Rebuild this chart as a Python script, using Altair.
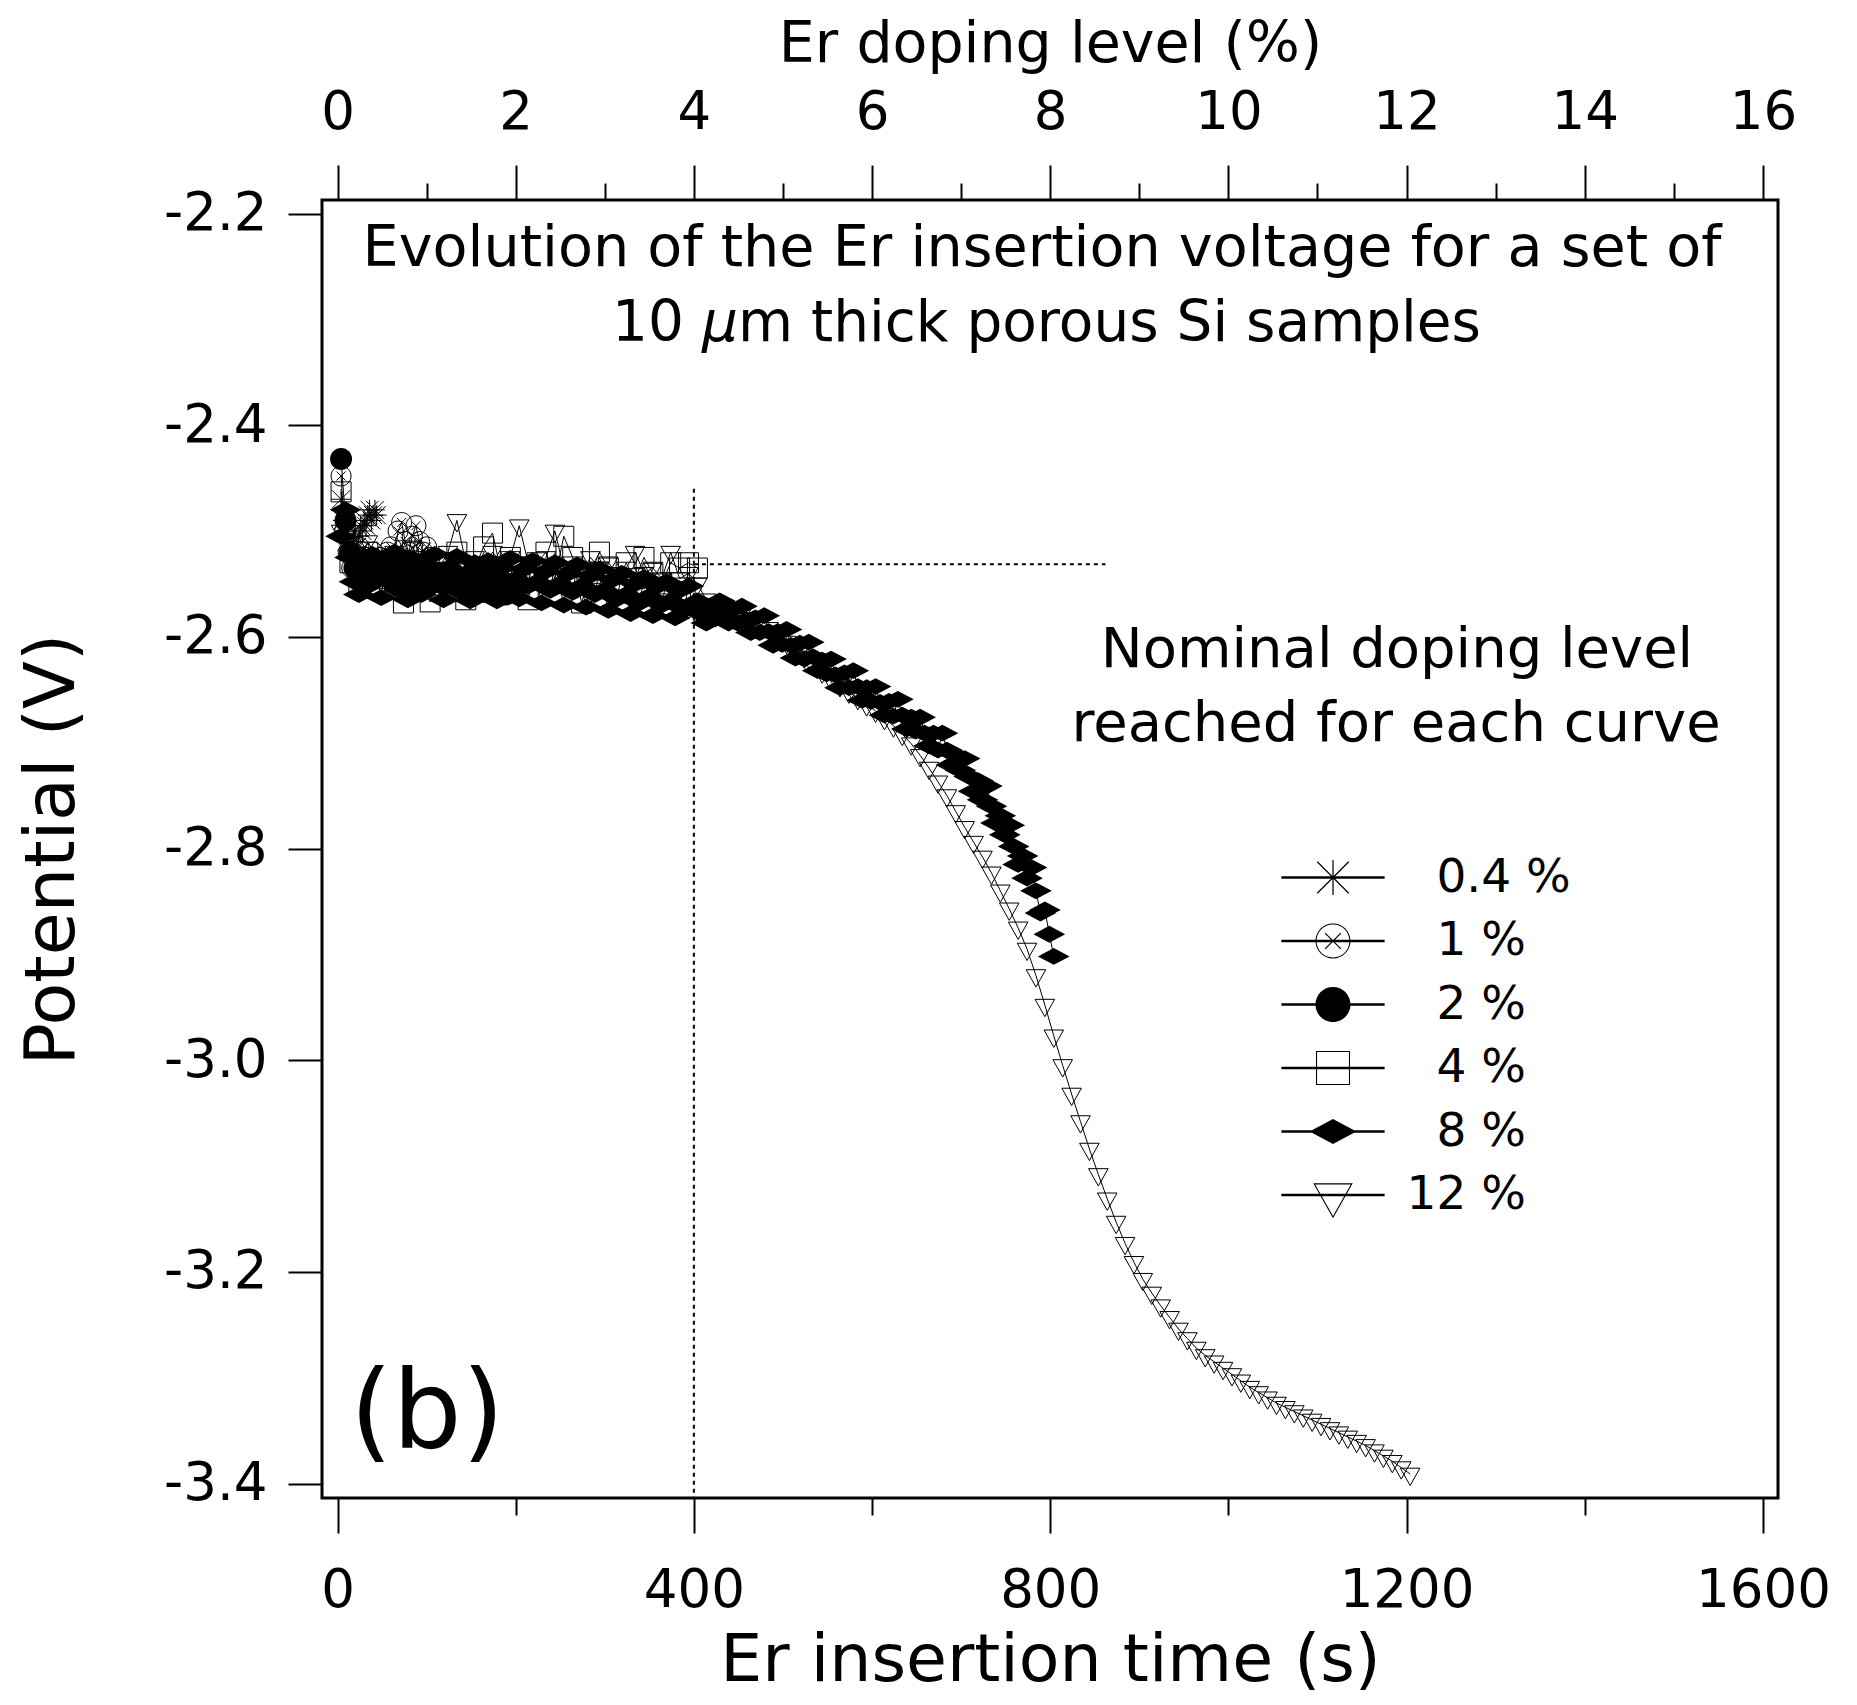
import altair as alt
import pandas as pd

FONT = "DejaVu Sans"

# ---------------- data ----------------
SERIES = ["0.4 %", "1 %", "2 %", "4 %", "8 %", "12 %"]

# sampling grids (s)
T_04 = [4 + 2 * k for k in range(21)]
T_1 = [4 + 4 * k for k in range(26)]
T_2 = [4 + 5 * k for k in range(41)]
T_4 = [4 + 10 * k for k in range(41)]
T_8 = [4 + 5 * k for k in range(161)]
T_12 = [4 + 10 * k for k in range(121)]

V_04 = [-2.470, -2.490, -2.500, -2.510, -2.505, -2.515, -2.520, -2.510, -2.500, -2.515,
        -2.505, -2.495, -2.500, -2.490, -2.495, -2.485, -2.480, -2.490, -2.485, -2.480,
        -2.485]

V_1 = [-2.448, -2.500, -2.520, -2.535, -2.530, -2.515, -2.540, -2.525, -2.530, -2.520,
       -2.535, -2.525, -2.530, -2.520, -2.515, -2.525, -2.500, -2.492, -2.510, -2.520,
       -2.505, -2.495, -2.510, -2.520, -2.515, -2.525]

V_2 = [-2.432, -2.490, -2.520, -2.535, -2.525, -2.540, -2.530, -2.545, -2.535, -2.540,
       -2.530, -2.545, -2.540, -2.535, -2.545, -2.540, -2.550, -2.540, -2.545, -2.535,
       -2.550, -2.545, -2.540, -2.550, -2.545, -2.540, -2.550, -2.545, -2.555, -2.545,
       -2.550, -2.540, -2.555, -2.550, -2.545, -2.555, -2.550, -2.560, -2.550, -2.555,
       -2.550]

V_4 = [-2.463, -2.530, -2.550, -2.520, -2.545, -2.530, -2.555, -2.568, -2.520, -2.545,
       -2.567, -2.530, -2.540, -2.520, -2.565, -2.535, -2.515, -2.502, -2.540, -2.525,
       -2.550, -2.565, -2.530, -2.520, -2.545, -2.505, -2.525, -2.568, -2.540, -2.520,
       -2.535, -2.550, -2.530, -2.545, -2.525, -2.540, -2.550, -2.530, -2.535, -2.530,
       -2.535]

V_8 = [-2.505, -2.480, -2.525, -2.548, -2.560, -2.532, -2.552, -2.522, -2.542, -2.563,
       -2.530, -2.548, -2.520, -2.556, -2.538, -2.565, -2.526, -2.546, -2.560, -2.533,
       -2.552, -2.522, -2.542, -2.565, -2.535, -2.550, -2.524, -2.558, -2.540, -2.566,
       -2.530, -2.548, -2.560, -2.528, -2.545, -2.566, -2.535, -2.555, -2.526, -2.546,
       -2.564, -2.536, -2.552, -2.528, -2.548, -2.568, -2.538, -2.556, -2.530, -2.550,
       -2.570, -2.540, -2.558, -2.532, -2.552, -2.572, -2.542, -2.560, -2.536, -2.556,
       -2.575, -2.546, -2.564, -2.540, -2.560, -2.578, -2.550, -2.568, -2.544, -2.562,
       -2.580, -2.552, -2.570, -2.548, -2.566, -2.582, -2.556, -2.574, -2.552, -2.570,
       -2.566, -2.579, -2.587, -2.572, -2.583, -2.566, -2.577, -2.587, -2.574, -2.587,
       -2.571, -2.584, -2.596, -2.582, -2.596, -2.580, -2.595, -2.608, -2.595, -2.607,
       -2.593, -2.608, -2.620, -2.606, -2.621, -2.605, -2.619, -2.632, -2.622, -2.635,
       -2.621, -2.636, -2.648, -2.634, -2.648, -2.632, -2.647, -2.660, -2.648, -2.661,
       -2.647, -2.662, -2.674, -2.661, -2.675, -2.659, -2.674, -2.687, -2.676, -2.689,
       -2.676, -2.691, -2.703, -2.691, -2.707, -2.691, -2.707, -2.721, -2.712, -2.726,
       -2.715, -2.732, -2.746, -2.736, -2.754, -2.741, -2.760, -2.776, -2.769, -2.787,
       -2.778, -2.798, -2.815, -2.807, -2.828, -2.818, -2.840, -2.861, -2.858, -2.881,
       -2.902]

V_12 = [-2.500, -2.520, -2.530, -2.510, -2.525, -2.530, -2.520, -2.535, -2.515, -2.530,
        -2.525, -2.535, -2.520, -2.490, -2.530, -2.525, -2.535, -2.520, -2.530, -2.525,
        -2.495, -2.530, -2.535, -2.525, -2.500, -2.535, -2.530, -2.540, -2.525, -2.535,
        -2.530, -2.540, -2.535, -2.520, -2.540, -2.535, -2.545, -2.520, -2.545, -2.540,
        -2.550, -2.565, -2.570, -2.572, -2.575, -2.578, -2.583, -2.588, -2.592, -2.597,
        -2.605, -2.612, -2.619, -2.626, -2.633, -2.640, -2.646, -2.652, -2.658, -2.664,
        -2.670, -2.677, -2.684, -2.692, -2.701, -2.712, -2.724, -2.737, -2.750, -2.765,
        -2.780, -2.794, -2.808, -2.823, -2.840, -2.857, -2.875, -2.895, -2.920, -2.948,
        -2.977, -3.005, -3.032, -3.058, -3.084, -3.108, -3.131, -3.153, -3.173, -3.191,
        -3.207, -3.220, -3.232, -3.243, -3.254, -3.263, -3.272, -3.279, -3.285, -3.291,
        -3.297, -3.303, -3.309, -3.314, -3.319, -3.324, -3.328, -3.332, -3.336, -3.340,
        -3.344, -3.348, -3.352, -3.356, -3.360, -3.364, -3.369, -3.374, -3.379, -3.385,
        -3.391]

# dotted guide lines
GUIDE_T = 400
GUIDE_V_TOP = -2.46
GUIDE_V_BOTTOM = -3.4137
GUIDE_H_V = -2.5315
GUIDE_H_T_END = 862

# axis ticks
X_MAJOR = [0, 400, 800, 1200, 1600]
X_MINOR = [200, 600, 1000, 1400]
D_MAJOR = [0, 2, 4, 6, 8, 10, 12, 14, 16]
D_MINOR = [1, 3, 5, 7, 9, 11, 13, 15]
Y_TICKS = [-2.2, -2.4, -2.6, -2.8, -3.0, -3.2, -3.4]

# ---------------- marker shapes ----------------
# data markers (stroked)
STAR = "M-1 0L1 0M0 -1L0 1M-0.9 -0.9L0.9 0.9M-0.9 0.9L0.9 -0.9"
CIRC = "M1 0A1 1 0 1 1 -1 0A1 1 0 1 1 1 0Z"
CIRCX = CIRC + "M-0.45 -0.45L0.45 0.45M-0.45 0.45L0.45 -0.45"
SQUARE = "M-0.97 -0.97L0.97 -0.97L0.97 0.97L-0.97 0.97Z"
DIAMOND = "M-1.34 0L0 -0.71L1.34 0L0 0.71Z"
TRI = "M-1.13 -0.67L1.13 -0.67L0 1.33Z"

# legend markers (all filled outlines, with the line through them)
BAR = "M-2.95 -0.075L2.95 -0.075L2.95 0.075L-2.95 0.075Z"
L_STAR = (BAR + "M-0.035 -1L0.035 -1L0.035 1L-0.035 1Z"
          + "M-0.875 -0.925L0.925 0.875L0.875 0.925L-0.925 -0.875Z"
          + "M-0.875 0.925L-0.925 0.875L0.875 -0.925L0.925 -0.875Z")
RING = CIRC + "M0.94 0A0.94 0.94 0 1 0 -0.94 0A0.94 0.94 0 1 0 0.94 0Z"
L_CIRCX = (BAR + RING
           + "M-0.425 -0.475L0.475 0.425L0.425 0.475L-0.475 -0.425Z"
           + "M-0.425 0.475L-0.475 0.425L0.425 -0.475L0.475 -0.425Z")
L_CIRC = BAR + CIRC
L_SQUARE = BAR + SQUARE + "M-0.91 -0.91L-0.91 0.91L0.91 0.91L0.91 -0.91Z"
L_DIAMOND = BAR + DIAMOND
L_TRI = BAR + TRI + "M-1.017 -0.604L0 1.196L1.017 -0.604Z"

SHAPES = [STAR, CIRCX, CIRC, SQUARE, DIAMOND, TRI]
LEGEND_SHAPES = [L_STAR, L_CIRCX, L_CIRC, L_SQUARE, L_DIAMOND, L_TRI]
FILLED = [False, False, True, False, True, False]
SIZES = [400, 400, 484, 425, 560, 300]

XSCALE = alt.Scale(domain=[-17.4, 1616.9], nice=False, zero=False)
YSCALE = alt.Scale(domain=[-3.4137, -2.18724], nice=False, zero=False)
DSCALE = alt.Scale(domain=[-0.174, 16.169], nice=False, zero=False)

common_axis = dict(grid=False, domain=False, tickColor="black", tickWidth=2,
                   labelColor="black", labelFont=FONT, labelFontSize=53,
                   titleColor="black", titleFont=FONT, titleFontWeight="normal",
                   labelFlush=False, labelOverlap=False)

X = alt.X("t:Q", scale=XSCALE,
          axis=alt.Axis(orient="bottom", values=X_MAJOR, format="d", tickSize=35,
                        labelPadding=31, title="Er insertion time (s)",
                        titleFontSize=66.5, titlePadding=10, **common_axis))
Y = alt.Y("v:Q", scale=YSCALE,
          axis=alt.Axis(values=Y_TICKS, tickSize=34, labelPadding=21,
                        labelExpr="'-' + format(abs(datum.value), '.1f')",
                        title="Potential (V)", titleFontSize=70, titlePadding=75,
                        **common_axis))

# ---------------- layers ----------------
layers = []

vline = pd.DataFrame({"t": [GUIDE_T], "v": [GUIDE_V_TOP], "v2": [GUIDE_V_BOTTOM]})
hline = pd.DataFrame({"t": [GUIDE_T], "t2": [GUIDE_H_T_END], "v": [GUIDE_H_V]})
layers.append(alt.Chart(vline).mark_rule(color="black", strokeWidth=2, strokeDash=[4, 4])
              .encode(x=X, y=Y, y2=alt.Y2("v2:Q")))
layers.append(alt.Chart(hline).mark_rule(color="black", strokeWidth=2, strokeDash=[4, 4])
              .encode(x=X, x2=alt.X2("t2:Q"), y=Y))

series_data = [(T_04, V_04), (T_1, V_1), (T_2, V_2), (T_4, V_4), (T_8, V_8), (T_12, V_12)]
for i in reversed(range(len(SERIES))):
    ts, vs = series_data[i]
    df = pd.DataFrame({"t": ts, "v": vs})
    base = alt.Chart(df)
    layers.append(base.mark_line(color="black", strokeWidth=1).encode(x=X, y=Y))
    layers.append(base.mark_point(shape=SHAPES[i], size=SIZES[i], filled=FILLED[i],
                                  color="black", strokeWidth=1, opacity=1)
                  .encode(x=X, y=Y))

# zero-width space keeps the two no-break spaces from being trimmed
PAD = "\u200b\u00a0\u00a0"
LEG = alt.Legend(orient="none", legendX=987.5, legendY=654, title=None,
                 symbolSize=1225, symbolStrokeWidth=0, symbolFillColor="black",
                 symbolOpacity=1, labelFont=FONT, labelFontSize=47, labelColor="black",
                 labelOffset=50, labelLimit=400, rowPadding=15.5, padding=0,
                 labelExpr="datum.label == '12 %' ? datum.label : '" + PAD + "' + datum.label")
legend_df = pd.DataFrame({"t": [0.0], "v": [-2.5], "series": [SERIES[0]]})
layers.append(alt.Chart(legend_df).transform_filter("false")
              .mark_point(filled=True, color="black", strokeWidth=0, opacity=1)
              .encode(x=X, y=Y,
                      shape=alt.Shape("series:N",
                                      scale=alt.Scale(domain=SERIES, range=LEGEND_SHAPES),
                                      legend=LEG)))

one = pd.DataFrame({"k": [0]})


def label(text, x, y, size, align="left", style="normal"):
    return (alt.Chart(one)
            .mark_text(text=text, font=FONT, fontSize=size, align=align,
                       baseline="alphabetic", color="black", fontStyle=style)
            .encode(x=alt.value(x), y=alt.value(y)))


layers.append(label("Evolution of the Er insertion voltage for a set of", 720, 66, 57.2, "center"))
layers.append(label("10", 290, 141, 56.5))
layers.append(label("\u03bc", 380, 141, 56.5, style="italic"))
layers.append(label("m thick porous Si samples", 416, 141, 56.5))
layers.append(label("Nominal doping level", 1075, 467, 56, "center"))
layers.append(label("reached for each curve", 1074, 541, 56, "center"))
layers.append(label("(b)", 28, 1248, 109))

data_group = alt.layer(*layers)

empty = pd.DataFrame({"t": [0.0], "d": [0.0]})
minor_axis = dict(grid=False, domain=False, tickColor="black", tickWidth=2,
                  labels=False, tickSize=17)

bottom_minor = (alt.Chart(empty).transform_filter("false").mark_point(opacity=0)
                .encode(x=alt.X("t:Q", scale=XSCALE, title=None,
                                axis=alt.Axis(orient="bottom", values=X_MINOR, **minor_axis))))
top_major = (alt.Chart(empty).transform_filter("false").mark_point(opacity=0)
             .encode(x=alt.X("d:Q", scale=DSCALE,
                             axis=alt.Axis(orient="top", values=D_MAJOR, format="d", tickSize=35,
                                           labelPadding=26, title="Er doping level (%)",
                                           titleFontSize=57, titlePadding=13, **common_axis))))
top_minor = (alt.Chart(empty).transform_filter("false").mark_point(opacity=0)
             .encode(x=alt.X("d:Q", scale=DSCALE, title=None,
                             axis=alt.Axis(orient="top", values=D_MINOR, **minor_axis))))

chart = (alt.layer(data_group, bottom_minor, top_major, top_minor)
         .resolve_scale(x="independent")
         .properties(width=1456, height=1298,
                     autosize=alt.AutoSizeParams(type="none"),
                     padding={"left": 314, "top": 192, "right": 71, "bottom": 199})
         .configure_view(stroke="black", strokeWidth=3))

chart.save("out.html", embed_options={"renderer": "svg", "actions": False})
